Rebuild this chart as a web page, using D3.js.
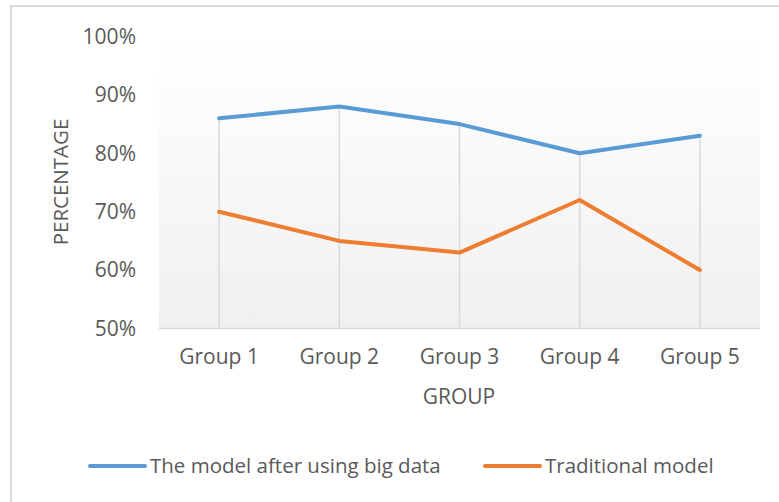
<!DOCTYPE html>
<html><head><meta charset="utf-8">
<script src="https://cdn.jsdelivr.net/npm/d3@7"></script>
<style>body{margin:0;background:#fff;}svg{display:block;font-family:"Open Sans",sans-serif;}</style>
</head><body>
<svg id="c" width="779" height="502"></svg>
<script>
const categories = ["Group 1","Group 2","Group 3","Group 4","Group 5"];
const bigData = [86, 88, 85, 80, 83];
const traditional = [70, 65, 63, 72, 60];
const yTicks = [50, 60, 70, 80, 90, 100];
const seriesNames = ["The model after using big data", "Traditional model"];
const colors = ["#5b9bd5", "#ed7d31"];

const svg = d3.select("#c");
const plotL = 159, plotR = 760, plotT = 36.5, plotB = 328.5;
const x = d3.scaleBand().domain(categories).range([plotL, plotR]).padding(0);
const y = d3.scaleLinear().domain([50, 100]).range([plotB, plotT]);
const cx = c => x(c) + x.bandwidth() / 2;

// outer border
svg.append("rect").attr("x", 11).attr("y", 6).attr("width", 800).attr("height", 520)
  .attr("fill", "none").attr("stroke", "#d9d9d9").attr("stroke-width", 2);

// plot background gradient
const defs = svg.append("defs");
const g = defs.append("linearGradient").attr("id", "bg").attr("x1", 0).attr("y1", 0).attr("x2", 0).attr("y2", 1);
g.append("stop").attr("offset", "0%").attr("stop-color", "#ffffff");
g.append("stop").attr("offset", "100%").attr("stop-color", "#f0f0f0");
svg.append("rect").attr("x", plotL).attr("y", plotT).attr("width", plotR - plotL).attr("height", plotB - plotT)
  .attr("fill", "url(#bg)");

// drop lines
categories.forEach((c, i) => {
  const m = Math.max(bigData[i], traditional[i]);
  svg.append("line").attr("x1", cx(c)).attr("x2", cx(c)).attr("y1", y(m)).attr("y2", plotB)
    .attr("stroke", "#d9d9d9").attr("stroke-width", 1.5);
});

// x axis line
svg.append("line").attr("x1", plotL).attr("x2", plotR).attr("y1", plotB).attr("y2", plotB)
  .attr("stroke", "#d9d9d9").attr("stroke-width", 1.5);

// y axis labels
const yAxis = d3.axisLeft(y).tickValues(yTicks).tickFormat(d => d + "%").tickSize(0).tickPadding(0);
const ya = svg.append("g").attr("transform", "translate(136,0)").call(yAxis);
ya.select(".domain").remove();
ya.selectAll("text").attr("fill", "#595959").style("font-size", "21px").style("font-family", "'Open Sans',sans-serif");

// x axis labels
const xAxis = d3.axisBottom(x).tickSize(0).tickPadding(0);
const xa = svg.append("g").attr("transform", "translate(0,349)").call(xAxis);
xa.select(".domain").remove();
xa.selectAll("text").attr("fill", "#595959").style("font-size", "21px").style("font-family", "'Open Sans',sans-serif");

// axis titles
svg.append("text").attr("x", 459).attr("y", 404).attr("text-anchor", "middle")
  .attr("fill", "#595959").style("font-size", "21px").text("GROUP");
svg.append("text").attr("transform", "translate(68,182) rotate(-90)").attr("text-anchor", "middle")
  .attr("fill", "#595959").style("font-size", "20.5px").text("PERCENTAGE");

// lines
const line = d3.line().x((d, i) => cx(categories[i])).y(d => y(d));
[bigData, traditional].forEach((s, k) => {
  svg.append("path").datum(s).attr("d", line).attr("fill", "none")
    .attr("stroke", colors[k]).attr("stroke-width", 4).attr("stroke-linecap", "round").attr("stroke-linejoin", "round");
});

// legend
const legX = [90, 485];
seriesNames.forEach((n, k) => {
  svg.append("line").attr("x1", legX[k]).attr("x2", legX[k] + 55).attr("y1", 466).attr("y2", 466)
    .attr("stroke", colors[k]).attr("stroke-width", 4).attr("stroke-linecap", "round");
  svg.append("text").attr("x", legX[k] + 60).attr("y", 473).attr("fill", "#595959")
    .style("font-size", "20.5px").text(n);
});
</script>
</body></html>
